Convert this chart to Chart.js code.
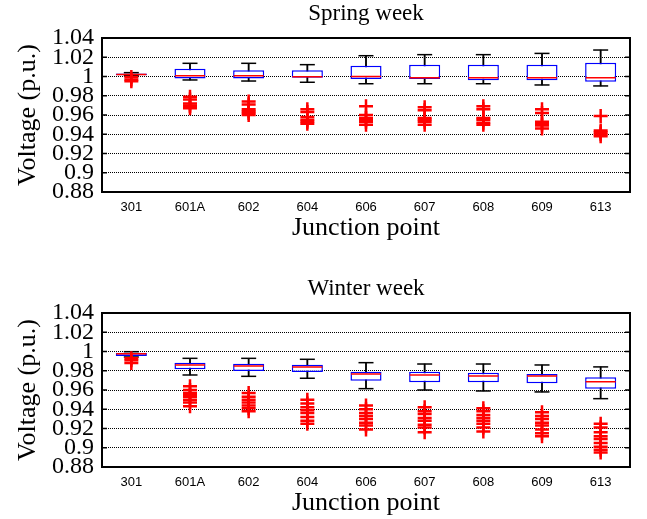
<!DOCTYPE html>
<html>
<head>
<meta charset="utf-8">
<script src="https://cdn.jsdelivr.net/npm/chart.js@4.4.0/dist/chart.umd.min.js"></script>
<style>
body { margin: 0; background: #fff; width: 647px; height: 519px; overflow: hidden; position: relative; }
.panel { position: absolute; left: 0; width: 647px; height: 244px; }
</style>
</head>
<body>
<div class="panel" style="top:0"><canvas id="spring" width="647" height="244"></canvas></div>
<div class="panel" style="top:275px"><canvas id="winter" width="647" height="244"></canvas></div>
<script>
const junctions = ['301', '601A', '602', '604', '606', '607', '608', '609', '613'];
const yTicks = [0.88, 0.9, 0.92, 0.94, 0.96, 0.98, 1, 1.02, 1.04];

// spring week
const springLow  = [1.0008, 0.9964, 0.9953, 0.994, 0.9925, 0.9925, 0.9925, 0.9912, 0.9902];
const springQ1   = [1.0013, 0.998, 0.998, 0.9988, 0.9974, 0.9974, 0.996, 0.996, 0.9946];
const springMed  = [1.0022, 1.0008, 1.0008, 0.9998, 1.0, 0.9988, 0.9988, 0.9988, 0.9988];
const springQ3   = [1.0032, 1.008, 1.0064, 1.0064, 1.0112, 1.0123, 1.0123, 1.0123, 1.0143];
const springHigh = [1.004, 1.0137, 1.0137, 1.0123, 1.0216, 1.0227, 1.0227, 1.024, 1.0275];
const springOut = [
    [0.9995, 0.997, 0.995],
    [0.979, 0.976, 0.972, 0.970, 0.969, 0.967],
    [0.974, 0.971, 0.966, 0.964, 0.962, 0.960],
    [0.966, 0.963, 0.958, 0.955, 0.953, 0.951],
    [0.969, 0.960, 0.957, 0.955, 0.953, 0.950],
    [0.968, 0.965, 0.957, 0.955, 0.953, 0.950],
    [0.969, 0.966, 0.957, 0.955, 0.952, 0.950],
    [0.966, 0.962, 0.953, 0.951, 0.949, 0.946],
    [0.959, 0.944, 0.942, 0.940, 0.938]
];

// winter week
const winterLow  = [0.9943, 0.9756, 0.9742, 0.9722, 0.9614, 0.960, 0.959, 0.958, 0.951];
const winterQ1   = [0.9953, 0.9815, 0.9797, 0.9787, 0.9697, 0.968, 0.968, 0.967, 0.9614];
const winterMed  = [0.9977, 0.986, 0.985, 0.984, 0.9766, 0.9756, 0.9746, 0.9746, 0.9687];
const winterQ3   = [0.9988, 0.9884, 0.9873, 0.9863, 0.979, 0.979, 0.978, 0.9766, 0.9732];
const winterHigh = [0.9998, 0.9929, 0.9929, 0.9919, 0.9884, 0.987, 0.987, 0.986, 0.984];
const winterOut = [
    [0.993, 0.991, 0.988],
    [0.964, 0.960, 0.957, 0.955, 0.953, 0.950, 0.947, 0.943],
    [0.957, 0.953, 0.950, 0.947, 0.944, 0.941, 0.938],
    [0.950, 0.946, 0.942, 0.939, 0.936, 0.932, 0.928, 0.925],
    [0.944, 0.940, 0.936, 0.933, 0.930, 0.926, 0.923, 0.919],
    [0.942, 0.938, 0.935, 0.931, 0.928, 0.924, 0.921, 0.916],
    [0.941, 0.938, 0.934, 0.931, 0.928, 0.925, 0.921, 0.917],
    [0.937, 0.933, 0.930, 0.926, 0.923, 0.919, 0.915, 0.912],
    [0.925, 0.921, 0.916, 0.912, 0.909, 0.905, 0.901, 0.898, 0.895]
];

const serif = '"Liberation Serif", "Times New Roman", serif';
const sans = '"Liberation Sans", Arial, sans-serif';

//frame, inward ticks and panel title
const framePlugin = {
    id: 'frame',
    afterDraw: function (chart, args, opts) {
        const ctx = chart.ctx;
        const a = chart.chartArea;
        const y = chart.scales.y;
        ctx.save();
        ctx.strokeStyle = '#000';
        ctx.lineWidth = 1.5;
        yTicks.forEach(function (v) {
            const py = y.getPixelForValue(v);
            ctx.beginPath();
            ctx.moveTo(a.right - 5, py);
            ctx.lineTo(a.right, py);
            ctx.moveTo(a.left, py);
            ctx.lineTo(a.left + 5, py);
            ctx.stroke();
        });
        ctx.lineWidth = 2;
        ctx.strokeRect(a.left, a.top, a.right - a.left, a.bottom - a.top);
        ctx.fillStyle = '#000';
        ctx.font = '23px ' + serif;
        ctx.textAlign = 'center';
        ctx.textBaseline = 'middle';
        ctx.fillText(opts.text, (a.left + a.right) / 2, 14);
        ctx.restore();
    }
};

function boxChart(id, title, low, q1, med, q3, high, outliers) {
    const outPoints = [];
    junctions.forEach(function (j, i) {
        outliers[i].forEach(function (v) {
            outPoints.push({ x: j, y: v });
        });
    });

    new Chart(id, {
        type: 'bar',
        data: {
            labels: junctions,
            datasets: [{
                type: 'line',
                label: 'Outliers',
                data: outPoints,
                showLine: false,
                pointStyle: 'cross',
                pointRadius: 7,
                pointBorderWidth: 2.5,
                pointBorderColor: '#ff0000',
                order: 0
            }, {
                type: 'line',
                label: 'Median',
                data: med,
                showLine: false,
                pointStyle: 'line',
                pointRadius: 15,
                pointBorderWidth: 1.5,
                pointBorderColor: '#ff0000',
                order: 1
            }, {
                type: 'line',
                label: 'Upper cap',
                data: high,
                showLine: false,
                pointStyle: 'line',
                pointRadius: 7.5,
                pointBorderWidth: 1.5,
                pointBorderColor: '#000',
                order: 2
            }, {
                type: 'line',
                label: 'Lower cap',
                data: low,
                showLine: false,
                pointStyle: 'line',
                pointRadius: 7.5,
                pointBorderWidth: 1.5,
                pointBorderColor: '#000',
                order: 2
            }, {
                label: 'Box',
                data: junctions.map(function (j, i) { return [q1[i], q3[i]]; }),
                backgroundColor: '#fff',
                borderColor: '#0000ff',
                borderWidth: 1.5,
                borderSkipped: false,
                barPercentage: 0.53,
                categoryPercentage: 1,
                grouped: false,
                order: 3
            }, {
                label: 'Whisker',
                data: junctions.map(function (j, i) { return [low[i], high[i]]; }),
                backgroundColor: '#000',
                borderWidth: 0,
                barThickness: 1.2,
                grouped: false,
                order: 4
            }]
        },
        options: {
            responsive: false,
            animation: false,
            events: [],
            layout: { padding: { top: 38, right: 17, bottom: 0, left: 0 } },
            plugins: {
                legend: { display: false },
                tooltip: { enabled: false },
                frame: { text: title }
            },
            scales: {
                x: {
                    grid: { display: false, drawTicks: false },
                    border: { display: false },
                    ticks: {
                        color: '#000',
                        font: { family: sans, size: 13 },
                        padding: 8,
                        autoSkip: false,
                        maxRotation: 0
                    },
                    title: {
                        display: true,
                        text: 'Junction point',
                        color: '#000',
                        font: { family: serif, size: 26, lineHeight: 1 },
                        padding: { top: 0, bottom: 3 }
                    },
                    afterFit: function (s) { s.height = 52; }
                },
                y: {
                    min: 0.88,
                    max: 1.04,
                    grid: { color: '#000', lineWidth: 1, drawTicks: false },
                    border: { display: false, dash: [1, 1] },
                    afterBuildTicks: function (s) {
                        s.ticks = yTicks.map(function (v) { return { value: v }; });
                    },
                    ticks: {
                        color: '#000',
                        font: { family: serif, size: 24 },
                        padding: 8,
                        autoSkip: false,
                        callback: function (v) { return String(+v.toFixed(2)); }
                    },
                    title: {
                        display: true,
                        text: 'Voltage (p.u.)',
                        color: '#000',
                        font: { family: serif, size: 26, lineHeight: 1 },
                        padding: { top: 15, bottom: 0 }
                    },
                    afterFit: function (s) { s.width = 102; }
                }
            }
        },
        plugins: [framePlugin]
    });
}

boxChart('spring', 'Spring week', springLow, springQ1, springMed, springQ3, springHigh, springOut);
boxChart('winter', 'Winter week', winterLow, winterQ1, winterMed, winterQ3, winterHigh, winterOut);
</script>
</body>
</html>
